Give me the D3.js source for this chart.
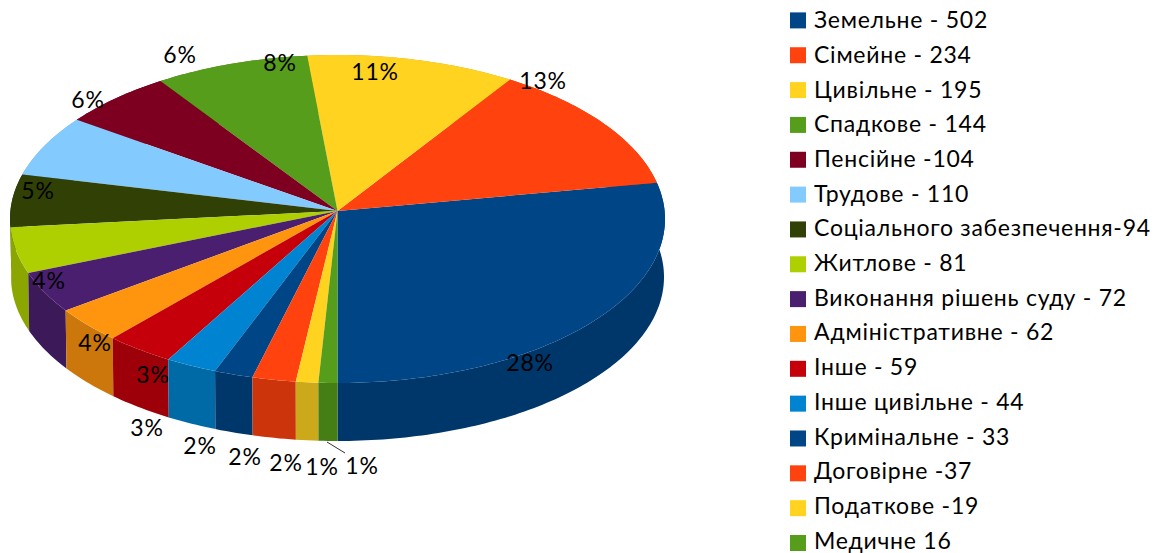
<!DOCTYPE html>
<html>
<head>
<meta charset="utf-8">
<script src="https://cdn.jsdelivr.net/npm/d3@7"></script>
<style>
    html, body { margin: 0; background: #fff; }
    svg { display: block; }
    text { font-family: Lato, "Open Sans", sans-serif; fill: #000; letter-spacing: 0.75px; }
</style>
</head>
<body>
<svg id="drawing_region"></svg>
<script>
const categories = ["Земельне", "Сімейне", "Цивільне", "Спадкове", "Пенсійне", "Трудове",
    "Соціального забезпечення", "Житлове", "Виконання рішень суду", "Адміністративне",
    "Інше", "Інше цивільне", "Кримінальне", "Договірне", "Податкове", "Медичне"];
const values = [502, 234, 195, 144, 104, 110, 94, 81, 72, 62, 59, 44, 33, 37, 19, 16];
const legendLabels = ["Земельне - 502", "Сімейне - 234", "Цивільне - 195", "Спадкове - 144",
    "Пенсійне -104", "Трудове - 110", "Соціального забезпечення-94", "Житлове - 81",
    "Виконання рішень суду - 72", "Адміністративне - 62", "Інше - 59", "Інше цивільне - 44",
    "Кримінальне - 33", "Договірне -37", "Податкове -19", "Медичне 16"];
const colors = ["#004586", "#ff420e", "#ffd320", "#579d1c", "#7e0021", "#83caff", "#314004", "#aecf00",
    "#4b1f6f", "#ff950e", "#c5000b", "#0084d1", "#004586", "#ff420e", "#ffd320", "#579d1c"];

// hand placed, the labels do not follow the slices in the original
const labelPos = [[530, 363], [543, 81], [375, 72], [280, 63], [180, 55], [88, 100], [38, 191], [49, 281],
    [95, 343], [153, 375], [147, 428], [200, 446], [245, 457], [286, 463], [322, 467], [362, 466]];

const width = 1162, height = 553;
const cx = 337.5, cy = 211;
const rx = 327.1, ry = 163.6, persp = -0.0488;
const depth = 58, bottomScaleX = 0.997;

const svg = d3.select("#drawing_region").attr("width", width).attr("height", height);

const slices = d3.pie().sort(null).startAngle(Math.PI).endAngle(-Math.PI)(values);
const total = d3.sum(values);
const pct = d3.format(".0%");
const line = d3.line();

// circle point -> picture, front of the pie is a bit closer to the viewer
function rim(a, bottom) {
    const u = Math.sin(a), v = -Math.cos(a);
    const w = 1 + persp * v;
    const x = rx * u / w, y = ry * v / w;
    return bottom
        ? [cx + x * bottomScaleX, cy + depth + y]
        : [cx + x, cy + y];
}

function arcPoints(s, bottom) {
    const n = Math.max(2, Math.ceil(Math.abs(s.startAngle - s.endAngle) * 60));
    return d3.range(n + 1).map(i => rim(s.startAngle + (s.endAngle - s.startAngle) * i / n, bottom));
}

function sidePath(s) {
    return line(arcPoints(s, false).concat(arcPoints(s, true).reverse())) + "Z";
}

function topPath(s) {
    return line([[cx, cy]].concat(arcPoints(s, false))) + "Z";
}

function darken(c) {
    const col = d3.rgb(c);
    return d3.rgb(col.r * 0.8, col.g * 0.8, col.b * 0.8).formatHex();
}

svg.append("g").selectAll("path")
    .data(slices)
    .enter()
    .append("path")
    .attr("d", sidePath)
    .attr("fill", (d, i) => darken(colors[i]));

svg.append("g").selectAll("path")
    .data(slices)
    .enter()
    .append("path")
    .attr("d", topPath)
    .attr("fill", (d, i) => colors[i]);

// leader of the last label
svg.append("line")
    .attr("x1", 327).attr("y1", 442)
    .attr("x2", 345).attr("y2", 453)
    .attr("stroke", "#333")
    .attr("stroke-width", 1);

svg.append("g").selectAll("text")
    .data(values)
    .enter()
    .append("text")
    .attr("x", (d, i) => labelPos[i][0])
    .attr("y", (d, i) => labelPos[i][1])
    .attr("dy", "0.35em")
    .attr("text-anchor", "middle")
    .attr("font-size", 23)
    .text(d => pct(d / total));

// swatches and texts get their own rows, the last text has to stay inside the picture
const swatchY = d3.scalePoint().domain(categories).range([20.4, 543]);
const legendTextY = d3.scalePoint().domain(categories).range([20.2, 540.6]);

const legend = svg.append("g");

legend.selectAll("rect")
    .data(categories)
    .enter()
    .append("rect")
    .attr("x", 790)
    .attr("y", d => swatchY(d) - 8)
    .attr("width", 16).attr("height", 16)
    .attr("fill", (d, i) => colors[i]);

legend.selectAll("text")
    .data(categories)
    .enter()
    .append("text")
    .attr("x", 814)
    .attr("y", d => legendTextY(d))
    .attr("dy", "0.35em")
    .attr("font-size", 23)
    .text((d, i) => legendLabels[i]);
</script>
</body>
</html>
